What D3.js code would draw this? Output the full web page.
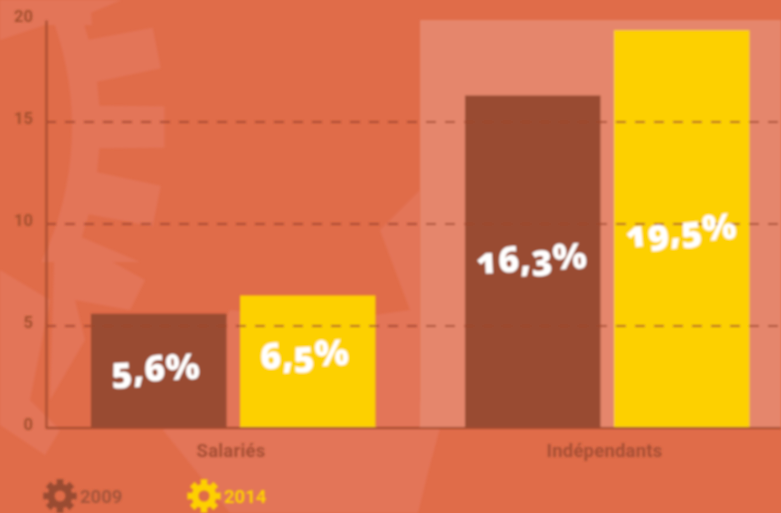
<!DOCTYPE html>
<html><head><meta charset="utf-8">
<script src="https://cdn.jsdelivr.net/npm/d3@7/dist/d3.min.js"></script>
<style>
html,body{margin:0;padding:0;background:#e06c49}
svg{display:block}
text{font-family:Roboto,"Liberation Sans",sans-serif}
.val{font-family:"Open Sans",Lato,sans-serif;font-weight:800;font-feature-settings:"onum" 1;font-variant-numeric:oldstyle-nums}
</style></head><body>
<svg id="c" width="781" height="513"></svg>
<script>
const categories=["Salariés","Indépendants"];
const years=["2009","2014"];
const values2009=[5.6,16.3];
const values2014=[6.5,19.5];
const labels2009=["5,6%","16,3%"];
const labels2014=["6,5%","19,5%"];
const yTicks=[0,5,10,15,20];
const gridTicks=[5,10,15];
const colors={bg:"#e06c49",gear:"#e37558",band:"#e5866c",b2009:"#994c33",b2014:"#fdd000",axis:"#a44b2e",tick:"#a4502f",cat:"#a64f35",grid:"#a0452a"};

const W=781,H=513;
const svg=d3.select("#c");
const defs=svg.append("defs");
defs.append("filter").attr("id","soft").append("feGaussianBlur").attr("stdDeviation",0.8);
defs.append("clipPath").attr("id","topGear").append("rect").attr("x",0).attr("y",0).attr("width",W).attr("height",262);

function gearPath(cx,cy,rOuter,rRoot,rHole,teeth,phase){
  const p=[];const step=2*Math.PI/teeth;phase=phase||0;
  for(let i=0;i<teeth;i++){
    const a=i*step+phase;
    const pts=[[rRoot,a-step*.32],[rOuter,a-step*.26],[rOuter,a+step*.26],[rRoot,a+step*.32]];
    pts.forEach((q,j)=>p.push((i===0&&j===0?"M":"L")+(cx+q[0]*Math.cos(q[1]))+","+(cy+q[0]*Math.sin(q[1]))));
  }
  p.push("Z");
  p.push(`M${cx+rHole},${cy}A${rHole},${rHole} 0 1,0 ${cx-rHole},${cy}A${rHole},${rHole} 0 1,0 ${cx+rHole},${cy}Z`);
  return p.join("");
}

const y=d3.scaleLinear().domain([0,20]).range([428,20]);
const barW=135.5;
const xBar=(cat,k)=>(categories.indexOf(cat)===0?91:465)+k*149;

svg.append("rect").attr("width",W).attr("height",H).attr("fill",colors.bg);
const bg=svg.append("g").attr("filter","url(#soft)").attr("fill",colors.gear);
bg.append("g").attr("clip-path","url(#topGear)").append("path").attr("fill-rule","evenodd").attr("d",gearPath(-240,127,405,340,312,32));
// background gear fragments
bg.append("path").attr("d","M0,0L90,0L92,25L45,25L0,40Z");
bg.append("path").attr("d","M420,190L380,230L410,310L340,320L230,310L163,430L230,513L418,513Q428,470 440,428L420,400Z");
bg.append("path").attr("d","M0,270L50,300L30,400L60,430L45,455L0,425Z");
bg.append("path").attr("d","M55,230L145,280L130,310L75,300L85,340L50,400Z");

const plot=svg.append("g").attr("filter","url(#soft)");
plot.append("rect").attr("x",420).attr("y",y(20)).attr("width",W-420).attr("height",y(0)-y(20)).attr("fill",colors.band);

const series=[[values2009,labels2009,colors.b2009],[values2014,labels2014,colors.b2014]];
series.forEach(([vals,,col],k)=>{
  plot.append("g").selectAll("rect").data(categories).join("rect")
    .attr("x",d=>xBar(d,k)).attr("width",barW)
    .attr("y",(d,i)=>y(vals[i])).attr("height",(d,i)=>y(0)-y(vals[i]))
    .attr("fill",col);
});

plot.append("g").selectAll("line").data(gridTicks).join("line")
  .attr("x1",46).attr("x2",W).attr("y1",d=>y(d)).attr("y2",d=>y(d))
  .attr("stroke",colors.grid).attr("stroke-opacity",.8).attr("stroke-width",2.2).attr("stroke-dasharray","10,9");

const yAxis=d3.axisLeft(y).tickValues(yTicks).tickSize(0).tickPadding(13);
const ya=plot.append("g").attr("transform","translate(46,0)").call(yAxis);
ya.select(".domain").attr("stroke",colors.axis).attr("stroke-width",2);
ya.selectAll("text").attr("fill",colors.tick).attr("font-size",16.5).attr("font-weight",700).attr("dy","0.32em").attr("y",-4);

plot.append("line").attr("x1",46).attr("x2",W).attr("y1",y(0)).attr("y2",y(0))
  .attr("stroke",colors.axis).attr("stroke-width",2);

const catCenters=[231,604.5];
plot.append("g").selectAll("text").data(categories).join("text")
  .attr("x",(d,i)=>catCenters[i]).attr("y",457).attr("text-anchor","middle")
  .attr("fill",colors.cat).attr("font-size",18.5).attr("font-weight",700).attr("letter-spacing",.2).text(d=>d);

const labelPos=[[[156,381,-3],[532,271,-3]],[[305,367,-3],[682,243,-5]]];
series.forEach(([,labs],k)=>{
  labs.forEach((t,i)=>{
    const [lx,ly,r]=labelPos[k][i];
    plot.append("text").attr("class","val")
      .attr("transform",`translate(${lx},${ly}) rotate(${r})`)
      .attr("text-anchor","middle").attr("fill","#fff").attr("font-size",36).text(t);
  });
});

const legend=[[60,years[0],colors.b2009,"#a5553a",80],[204,years[1],colors.b2014,"#fdd000",224]];
legend.forEach(([gx,t,col,tc,tx])=>{
  plot.append("path").attr("fill-rule","evenodd").attr("fill",col).attr("d",gearPath(gx,496,17,12.5,5.5,8));
  plot.append("text").attr("x",tx).attr("y",503).attr("fill",tc).attr("font-size",18.5).attr("font-weight",700).text(t);
});
</script></body></html>
